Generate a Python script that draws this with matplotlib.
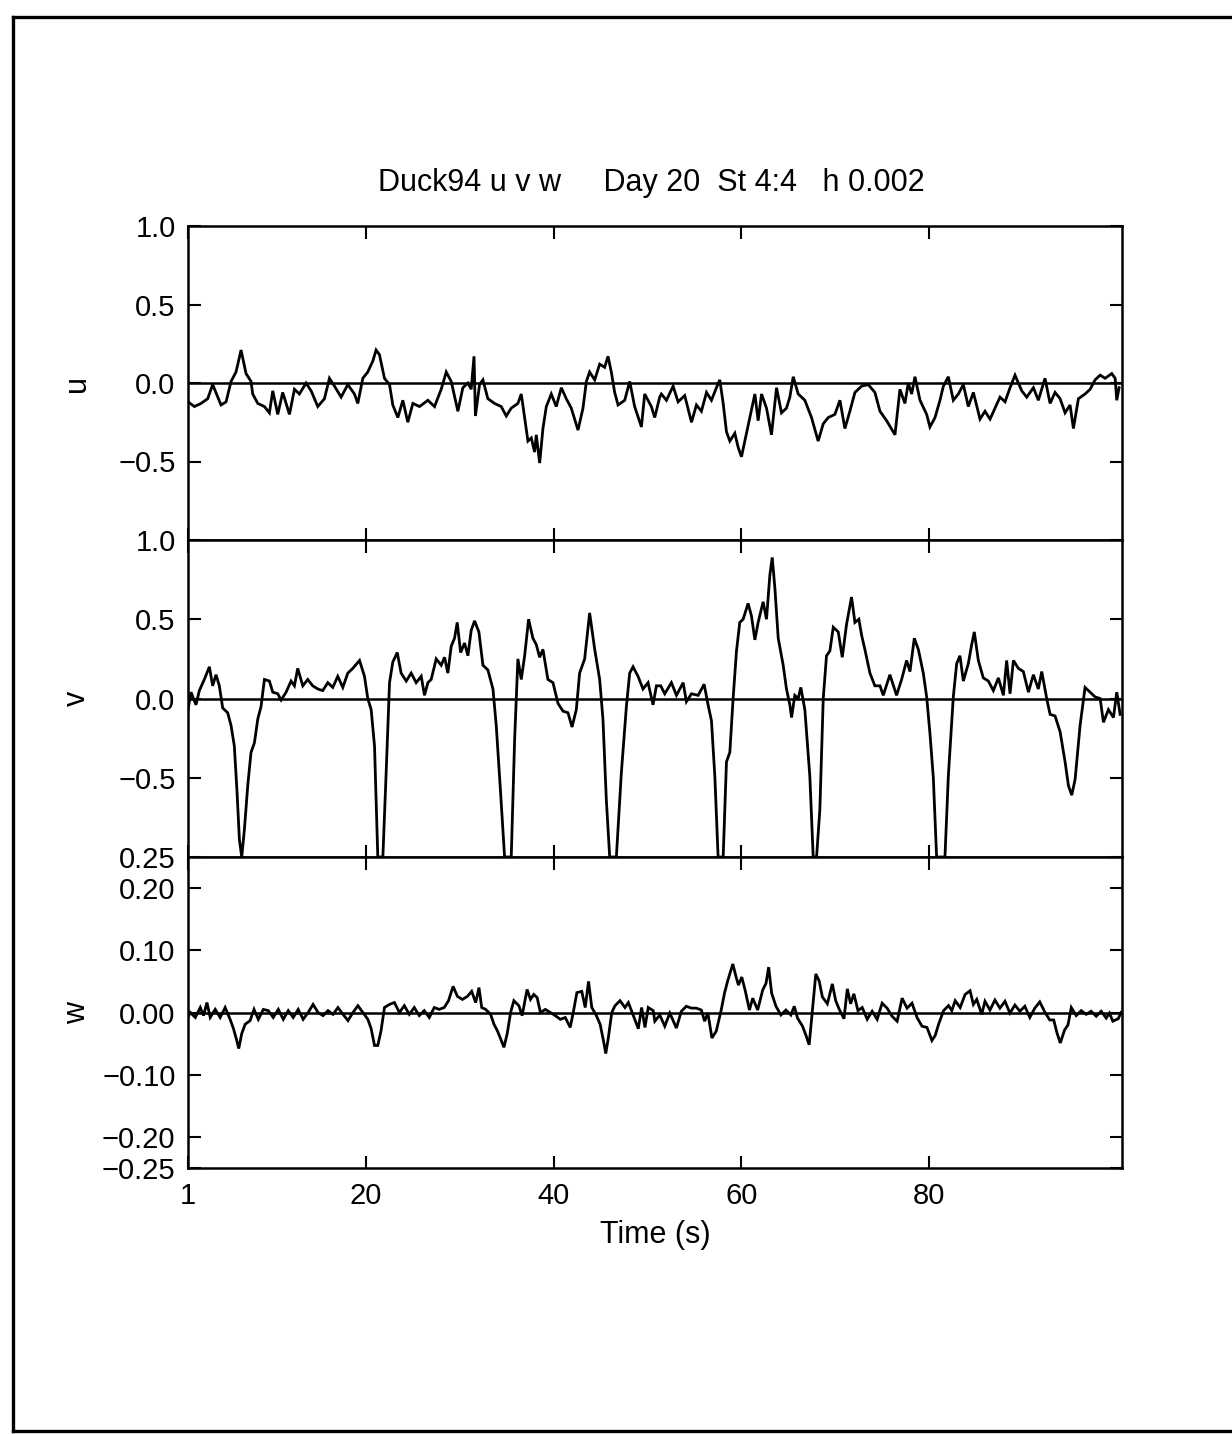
import matplotlib
matplotlib.use("Agg")
import matplotlib.pyplot as plt
from matplotlib.lines import Line2D

plt.rcParams['font.family'] = ['Liberation Sans', 'DejaVu Sans']
plt.rcParams['axes.unicode_minus'] = True

# ---------------- data ----------------
t_u = [1.0, 1.68, 2.39, 3.10, 3.63, 4.17, 4.52, 5.06, 5.59, 6.12, 6.66, 7.19, 7.72, 7.90, 8.44,
       9.15, 9.68, 10.04, 10.57, 11.10, 11.82, 12.35, 12.88, 13.59, 14.13, 14.84, 15.55, 16.08,
       16.62, 17.33, 18.04, 18.75, 19.11, 19.64, 20.17, 20.71, 21.06, 21.42, 21.95, 22.49, 22.84,
       23.38, 23.91, 24.44, 24.98, 25.69, 26.58, 27.29, 28.00, 28.54, 29.07, 29.78, 30.31, 30.85,
       31.20, 31.50, 31.65, 32.09, 32.45, 32.98, 33.69, 34.40, 34.94, 35.47, 36.18, 36.54, 36.90,
       37.25, 37.61, 37.96, 38.14, 38.50, 38.85, 39.21, 39.74, 40.27, 40.81, 41.34, 41.87, 42.59,
       43.12, 43.48, 43.83, 44.37, 44.90, 45.43, 45.79, 46.14, 46.50, 46.86, 47.57, 48.10, 48.63,
       49.35, 49.70, 50.41, 50.77, 51.30,
       51.48, 52.02, 52.73, 53.26, 53.97, 54.69, 55.22, 55.75, 56.29, 56.82, 57.35, 57.71, 58.07,
       58.42, 58.78, 59.31, 59.67, 60.02, 60.56, 60.91, 61.45, 61.80, 62.16, 62.69, 63.22, 63.76,
       64.29, 64.82, 65.18, 65.54, 66.07, 66.78, 67.49, 68.20, 68.74, 69.27, 69.98, 70.52, 71.05,
       71.58, 72.12, 72.83, 73.54, 74.25, 74.79, 75.50, 76.39, 76.92, 77.45, 77.81, 78.17, 78.52,
       79.06, 79.77, 80.12, 80.66, 81.19, 81.55, 82.08, 82.61, 83.15, 83.68, 84.21, 84.75, 85.46,
       85.99, 86.53, 87.06, 87.59, 88.13, 88.66, 89.19, 89.91, 90.44, 91.15, 91.68, 92.39, 92.93,
       93.46, 94.00, 94.53, 95.06, 95.42, 95.95, 96.66, 97.20, 97.73, 98.27, 98.80, 99.51, 99.87,
       100.04, 100.29]
u = [-0.12, -0.15, -0.13, -0.10, -0.01, -0.09, -0.14, -0.12, 0.01, 0.07, 0.21, 0.06, 0.01, -0.07, -0.13,
     -0.15, -0.19, -0.05, -0.20, -0.06, -0.20, -0.04, -0.07, 0.0, -0.05, -0.15, -0.10, 0.03,
     -0.02, -0.09, -0.01, -0.07, -0.13, 0.03, 0.07, 0.14, 0.21, 0.18, 0.03, -0.01, -0.14,
     -0.22, -0.11, -0.25, -0.13, -0.15, -0.11, -0.15, -0.04, 0.07, 0.01, -0.18, -0.03, 0.0,
     -0.04, 0.17, -0.21, -0.01, 0.02, -0.10, -0.13, -0.15, -0.21, -0.16, -0.13, -0.07, -0.22,
     -0.37, -0.35, -0.44, -0.33, -0.51, -0.29, -0.15, -0.07, -0.15, -0.03, -0.10, -0.16, -0.30,
     -0.16, 0.01, 0.07, 0.02, 0.12, 0.10, 0.17, 0.07, -0.06, -0.14, -0.11, 0.01, -0.15,
     -0.28, -0.07, -0.15, -0.22, -0.09,
     -0.07, -0.11, -0.02, -0.12, -0.08, -0.25, -0.14, -0.18, -0.06, -0.11, -0.03, 0.02, -0.13,
     -0.31, -0.37, -0.32, -0.41, -0.47, -0.32, -0.22, -0.07, -0.24, -0.07, -0.16, -0.33, -0.03,
     -0.19, -0.16, -0.09, 0.04, -0.07, -0.11, -0.22, -0.37, -0.26, -0.22, -0.20, -0.11, -0.29,
     -0.18, -0.06, -0.02, -0.01, -0.06, -0.18, -0.24, -0.33, -0.04, -0.13, 0.00, -0.07, 0.04,
     -0.11, -0.20, -0.28, -0.22, -0.11, -0.02, 0.04, -0.11, -0.07, -0.01, -0.15, -0.06, -0.23,
     -0.18, -0.23, -0.16, -0.09, -0.12, -0.03, 0.05, -0.05, -0.09, -0.03, -0.11, 0.03, -0.13,
     -0.06, -0.10, -0.19, -0.14, -0.29, -0.10, -0.07, -0.04, 0.02, 0.05, 0.03, 0.06, 0.03,
     -0.11, -0.03]

t_v = [1.0, 1.32, 1.85, 2.21, 2.74, 3.28, 3.63, 3.99, 4.34, 4.70, 5.23, 5.59, 5.94, 6.23, 6.48,
       6.73, 7.01, 7.37, 7.72, 8.08, 8.44, 8.79, 9.15, 9.68, 10.04, 10.57, 10.93, 11.46, 11.99,
       12.35, 12.70, 13.24, 13.77, 14.30, 14.84, 15.37, 15.91, 16.44, 16.97, 17.51, 18.04, 18.57,
       19.29, 19.82, 20.17, 20.53, 20.89, 21.24, 21.78, 22.13, 22.49, 22.84, 23.31, 23.73, 24.27,
       24.80, 25.33, 25.87, 26.22, 26.58, 26.93, 27.47, 28.00, 28.36, 28.71, 29.07, 29.42, 29.71,
       30.07, 30.49, 30.85, 31.20, 31.56, 32.02, 32.45, 32.98, 33.52, 33.87, 34.33, 34.76, 35.47,
       35.83, 36.18, 36.54, 36.90, 37.32, 37.78, 38.14, 38.50, 38.85, 39.38, 39.92, 40.45, 40.99,
       41.52, 41.95, 42.41, 42.76, 43.30, 43.58, 43.83, 44.37, 44.90, 45.25, 45.61, 45.97, 46.68,
       47.21, 47.75, 48.10, 48.46, 48.99, 49.52, 50.06, 50.59, 50.95, 51.41,
       51.84, 52.55, 53.09, 53.80, 54.15, 54.69, 55.40, 56.04, 56.46, 56.82, 57.18, 57.53, 58.07,
       58.42, 58.78, 59.13, 59.49, 59.84, 60.20, 60.73, 61.09, 61.45, 61.80, 62.33, 62.69, 63.05,
       63.30, 63.58, 63.94, 64.47, 64.82, 65.18, 65.36, 65.71, 66.07, 66.35, 66.78, 67.31, 67.67,
       68.03, 68.38, 68.74, 69.09, 69.45, 69.81, 70.34, 70.77, 71.23, 71.76, 72.12, 72.54, 72.83,
       73.18, 73.72, 74.25, 74.79, 75.14, 75.85, 76.56, 77.10, 77.63, 77.99, 78.45, 78.88, 79.41,
       79.77, 80.12, 80.48, 80.83, 81.72, 82.08, 82.61, 82.97, 83.32, 83.68, 84.21, 84.57, 84.85,
       85.28, 85.81, 86.35, 86.88, 87.42, 87.95, 88.30, 88.66, 89.02, 89.55, 90.08, 90.62, 91.15,
       91.68, 92.04, 92.57, 92.93, 93.46, 94.00, 94.53, 94.89, 95.24, 95.60, 96.13, 96.66, 97.20,
       97.73, 98.27, 98.62, 99.15, 99.69, 100.04, 100.40]
v = [-0.07, 0.04, -0.04, 0.05, 0.12, 0.20, 0.08, 0.15, 0.08, -0.06, -0.09, -0.17, -0.30, -0.59, -0.89,
     -1.0, -0.83, -0.55, -0.34, -0.28, -0.13, -0.05, 0.12, 0.11, 0.04, 0.03, -0.01, 0.04, 0.11,
     0.08, 0.19, 0.08, 0.12, 0.08, 0.06, 0.05, 0.10, 0.07, 0.14, 0.07, 0.16, 0.19,
     0.24, 0.14, 0.00, -0.07, -0.30, -1.0, -1.0, -0.47, 0.10, 0.23, 0.29, 0.16, 0.11,
     0.16, 0.10, 0.14, 0.02, 0.10, 0.12, 0.25, 0.21, 0.26, 0.16, 0.33, 0.38, 0.48,
     0.29, 0.35, 0.27, 0.43, 0.49, 0.42, 0.21, 0.18, 0.06, -0.17, -0.59, -1.0, -1.0,
     -0.26, 0.25, 0.12, 0.27, 0.50, 0.38, 0.34, 0.26, 0.31, 0.12, 0.10, -0.03, -0.08,
     -0.09, -0.18, -0.07, 0.16, 0.25, 0.40, 0.54, 0.31, 0.12, -0.13, -0.64, -1.0, -1.0,
     -0.47, -0.05, 0.16, 0.20, 0.14, 0.06, 0.10, -0.04, 0.08, 0.08,
     0.03, 0.10, 0.02, 0.10, -0.02, 0.03, 0.02, 0.09, -0.04, -0.14, -0.49, -1.0, -1.0,
     -0.40, -0.34, 0.0, 0.30, 0.48, 0.50, 0.60, 0.52, 0.37, 0.48, 0.61, 0.50, 0.78,
     0.89, 0.70, 0.38, 0.21, 0.06, -0.04, -0.12, 0.02, 0.0, 0.07, -0.07, -0.49, -1.0,
     -1.0, -0.70, 0.0, 0.27, 0.30, 0.45, 0.42, 0.26, 0.47, 0.64, 0.48, 0.50, 0.40,
     0.31, 0.16, 0.08, 0.08, 0.02, 0.15, 0.02, 0.12, 0.24, 0.17, 0.38, 0.31, 0.16,
     0.01, -0.22, -0.50, -1.0, -1.0, -0.49, 0.01, 0.22, 0.27, 0.11, 0.22, 0.34, 0.42,
     0.24, 0.13, 0.11, 0.05, 0.13, 0.02, 0.24, 0.03, 0.24, 0.19, 0.17, 0.04, 0.15,
     0.06, 0.17, 0.00, -0.10, -0.11, -0.21, -0.40, -0.55, -0.61, -0.51, -0.17, 0.07, 0.04,
     0.01, 0.00, -0.15, -0.07, -0.12, 0.04, -0.10]

t_w = [1.0, 1.25, 1.78, 2.31, 2.66, 3.02, 3.37, 3.90, 4.43, 4.96, 5.49, 5.85, 6.20, 6.41, 6.73,
       7.09, 7.62, 8.04, 8.50, 9.03, 9.56, 10.09, 10.63, 11.16, 11.69, 12.22, 12.75, 13.28, 13.81,
       14.34, 14.87, 15.40, 15.93, 16.46, 16.99, 17.53, 18.06, 18.59, 19.12, 19.65, 20.18, 20.53,
       20.89, 21.24, 21.59, 21.95, 22.48, 23.01, 23.54, 24.07, 24.60, 25.13, 25.66, 26.19, 26.73,
       27.26, 27.79, 28.32, 28.78, 29.27, 29.73, 30.26, 30.80, 31.25, 31.68, 32.03, 32.32, 32.74,
       33.27, 33.63, 33.98, 34.33, 34.69, 35.04, 35.40, 35.75, 36.28, 36.63, 37.16, 37.52, 37.87,
       38.23, 38.58, 39.11, 39.64, 40.17, 40.70, 41.23, 41.76, 42.12, 42.47, 42.99, 43.36, 43.71,
       44.06, 44.49, 44.95, 45.30, 45.55, 45.83, 46.19, 46.54, 47.07, 47.60, 47.96, 48.49, 49.02,
       49.37, 49.73, 50.08, 50.61,
       50.78, 51.31, 51.84, 52.38, 53.08, 53.61, 54.14, 54.68, 55.21, 55.74, 56.09, 56.44, 56.87,
       57.33, 57.86, 58.21, 58.57, 59.10, 59.45, 59.70, 60.05, 60.41, 60.87, 61.22, 61.75, 62.28,
       62.64, 62.92, 63.24, 63.70, 64.23, 64.76, 65.29, 65.65, 66.00, 66.53, 66.88, 67.24, 67.59,
       67.95, 68.30, 68.65, 69.18, 69.71, 70.07, 70.42, 70.95, 71.31, 71.66, 72.01, 72.44, 72.90,
       73.43, 73.96, 74.49, 75.02, 75.55, 76.08, 76.62, 77.15, 77.68, 78.21, 78.74, 79.27, 79.80,
       80.33, 80.68, 81.04, 81.57, 82.10, 82.45, 82.81, 83.34, 83.87, 84.40, 84.75, 85.11, 85.64,
       85.99, 86.52, 87.05, 87.58, 88.12, 88.65, 89.18, 89.71, 90.24, 90.77, 91.30, 91.83, 92.36,
       92.89, 93.32, 93.67, 94.02, 94.48, 94.84, 95.19, 95.72, 96.25, 96.78, 97.31, 97.85, 98.38,
       98.91, 99.26, 99.62, 100.2, 100.5]
w = [-0.008, 0.0, -0.008, 0.008, -0.005, 0.016, -0.008, 0.005, -0.008, 0.008, -0.011, -0.026, -0.045, -0.058, -0.034,
     -0.019, -0.013, 0.005, -0.011, 0.005, 0.003, -0.008, 0.005, -0.011, 0.003, -0.008, 0.005, -0.011, 0.0,
     0.013, 0.0, -0.005, 0.003, -0.003, 0.008, -0.003, -0.013, 0.0, 0.011, 0.0, -0.011, -0.026,
     -0.053, -0.053, -0.029, 0.008, 0.013, 0.016, 0.0, 0.011, -0.003, 0.008, -0.005, 0.003, -0.008,
     0.008, 0.005, 0.008, 0.019, 0.042, 0.026, 0.021, 0.026, 0.034, 0.016, 0.040, 0.008, 0.005,
     -0.003, -0.019, -0.029, -0.042, -0.056, -0.034, 0.0, 0.019, 0.011, -0.005, 0.037, 0.021, 0.029,
     0.024, 0.0, 0.005, 0.0, -0.005, -0.011, -0.008, -0.024, 0.003, 0.032, 0.034, 0.008, 0.050,
     0.008, -0.003, -0.019, -0.045, -0.066, -0.040, 0.0, 0.011, 0.019, 0.008, 0.016, -0.005, -0.026,
     0.008, -0.024, 0.008, 0.003,
     -0.014, -0.004, -0.022, -0.001, -0.025, 0.002, 0.010, 0.007, 0.007, 0.004, -0.014, -0.001, -0.041,
     -0.030, 0.004, 0.031, 0.052, 0.078, 0.057, 0.044, 0.057, 0.036, 0.004, 0.023, 0.004, 0.036,
     0.047, 0.073, 0.031, 0.010, -0.004, 0.004, -0.004, 0.010, -0.009, -0.022, -0.036, -0.052, 0.004,
     0.062, 0.051, 0.025, 0.014, 0.046, 0.019, 0.006, -0.010, 0.038, 0.014, 0.030, 0.003, 0.008,
     -0.011, 0.002, -0.011, 0.015, 0.007, -0.006, -0.014, 0.023, 0.007, 0.015, -0.008, -0.022, -0.024,
     -0.045, -0.037, -0.019, 0.003, 0.011, 0.003, 0.019, 0.008, 0.029, 0.035, 0.013, 0.021, -0.003,
     0.018, 0.004, 0.020, 0.007, 0.018, -0.001, 0.012, 0.002, 0.010, -0.008, 0.007, 0.017, 0.001,
     -0.012, -0.012, -0.033, -0.049, -0.028, -0.020, 0.008, -0.005, 0.003, -0.003, 0.002, -0.006, 0.002,
     -0.009, -0.001, -0.014, -0.010, 0.0]

x_ticks = [1, 20, 40, 60, 80]
u_ticks = [-0.5, 0.0, 0.5, 1.0]
u_labels = ['\u22120.5', '0.0', '0.5', '1.0']
v_ticks = [-0.5, 0.0, 0.5, 1.0]
v_labels = ['\u22120.5', '0.0', '0.5', '1.0']
w_ticks = [-0.25, -0.20, -0.10, 0.0, 0.10, 0.20, 0.25]
w_labels = ['\u22120.25', '\u22120.20', '\u22120.10', '0.00', '0.10', '0.20', '0.25']
title = 'Duck94 u v w     Day 20  St 4:4   h 0.002'

# ---------------- figure ----------------
W, H = 1232, 1434
fig = plt.figure(figsize=(W / 100, H / 100), dpi=100)


def fy(py):
    return 1 - py / H


left, right = 188 / W, 1122 / W
panels = [(226, 540), (540, 857), (857, 1168)]
axes = []
for top, bot in panels:
    axes.append(fig.add_axes([left, fy(bot), right - left, fy(top) - fy(bot)]))
ax_u, ax_v, ax_w = axes

series = [
    (ax_u, t_u, u, (-1.0, 1.0), u_ticks, u_labels, 'u'),
    (ax_v, t_v, v, (-1.0, 1.0), v_ticks, v_labels, 'v'),
    (ax_w, t_w, w, (-0.25, 0.25), w_ticks, w_labels, 'w'),
]
for ax, t, y, ylim, yt, yl, name in series:
    ax.plot(t, y, color='black', lw=2.0, solid_joinstyle='miter')
    ax.axhline(0.0, color='black', lw=1.8)
    ax.set_xlim(1, 100.6)
    ax.set_ylim(*ylim)
    ax.set_yticks(yt)
    ax.set_yticklabels(yl)
    ax.set_xticks(x_ticks)
    ax.tick_params(direction='in', length=9, width=1.5, top=True, right=True,
                   labelsize=21, pad=9)
    for s in ax.spines.values():
        s.set_linewidth(1.8)
    ax.set_ylabel(name, fontsize=22, rotation=90)
    ax.yaxis.set_label_coords(-0.103, 0.5)
    if ax is not ax_w:
        ax.tick_params(labelbottom=False)

ax_w.tick_params(axis='x', pad=10)
ax_w.set_xlabel('Time (s)', fontsize=22, labelpad=7)

fig.text(651 / W, fy(183), title, ha='center', va='center', fontsize=22)

# page border
for xs, ys in [([13, 13], [17, 1431]), ([13, W], [17, 17]), ([13, W], [1431, 1431])]:
    fig.add_artist(Line2D([x / W for x in xs], [fy(p) for p in ys],
                          transform=fig.transFigure, color='black', lw=2.4))

fig.savefig('out.png', dpi=100)
